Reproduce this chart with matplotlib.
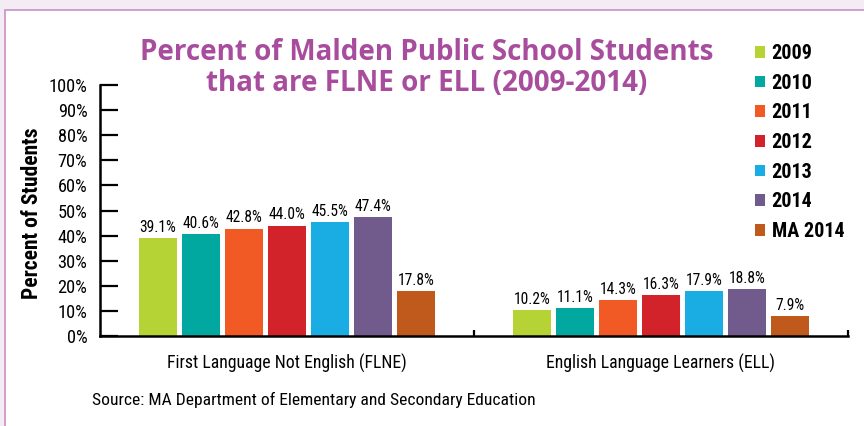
import matplotlib
matplotlib.use('Agg')
import matplotlib.pyplot as plt
from matplotlib import font_manager
from matplotlib.patches import Rectangle, Patch
import numpy as np

# data
categories = ['First Language Not English (FLNE)', 'English Language Learners (ELL)']
series = ['2009', '2010', '2011', '2012', '2013', '2014', 'MA 2014']
colors = ['#b5d334', '#00a89f', '#f15a24', '#d2232a', '#1aade3', '#715a8c', '#c05a1c']
flne = [39.1, 40.6, 42.8, 44.0, 45.5, 47.4, 17.8]
ell = [10.2, 11.1, 14.3, 16.3, 17.9, 18.8, 7.9]
yticks = [0, 10, 20, 30, 40, 50, 60, 70, 80, 90, 100]
ytick_labels = [f'{t}%' for t in yticks]

names = {f.name for f in font_manager.fontManager.ttflist}
narrow = 'DejaVu Sans'
for cand in ['Liberation Sans Narrow', 'Roboto Condensed', 'DejaVu Sans Condensed', 'Roboto']:
    if cand in names:
        narrow = cand
        break
title_font = 'Open Sans' if 'Open Sans' in names else 'DejaVu Sans'
plt.rcParams['font.family'] = [narrow, 'DejaVu Sans']

W, H = 864, 426
fig = plt.figure(figsize=(W / 100, H / 100), dpi=100, facecolor='#f3ecf5')

# white panel with purple edge, behind everything
panel = Rectangle((5 / W, -0.1), 1.2, 1.1 - 10 / H, transform=fig.transFigure,
                  facecolor='white', edgecolor='#c98fc4', linewidth=1.2, zorder=-10)
fig.add_artist(panel)

ax = fig.add_axes([100 / W, 1 - 336 / H, 748 / W, 251 / H])
ax.set_facecolor('none')

pitch, width = 0.115, 0.104
x = np.arange(len(categories))
for i, (name, c) in enumerate(zip(series, colors)):
    vals = [flne[i], ell[i]]
    pos = x + (i - 3) * pitch
    ax.bar(pos, vals, width=width, color=c, label=name, zorder=2)
    for p, v in zip(pos, vals):
        ax.text(p, v + 1.3, f'{v:.1f}%', ha='center', va='bottom', fontsize=11.2)

ax.set_xlim(-0.5, 1.5)
ax.set_ylim(0, 100)
ax.set_yticks(yticks)
ax.set_yticklabels(ytick_labels)
ax.set_xticks([0.5, 1.5])
ax.set_xticklabels([])
ax.tick_params(axis='y', direction='in', length=13, width=1.6, labelsize=13.2, pad=9)
ax.tick_params(axis='x', direction='in', length=4, width=1.6)
for s in ['top', 'right']:
    ax.spines[s].set_visible(False)
for s in ['left', 'bottom']:
    ax.spines[s].set_linewidth(1.8)

for i, cat in enumerate(categories):
    ax.text(i, -27 / 251, cat, transform=ax.get_xaxis_transform(),
            ha='center', va='center', fontsize=12.8)

fig.text(32 / W, 1 - 213 / H, 'Percent of Students', rotation=90,
         ha='center', va='center', fontsize=15.5, fontweight='bold')

fig.text(427 / W, 1 - 68 / H, 'Percent of Malden Public School Students\nthat are FLNE or ELL (2009-2014)',
         ha='center', va='center', fontsize=20, fontweight='bold', color='#a84c9d',
         family=title_font, linespacing=1.05)

fig.text(92 / W, 1 - 400 / H, 'Source: MA Department of Elementary and Secondary Education',
         ha='left', va='center', fontsize=12.6)

handles = [Patch(facecolor=c, label=n) for n, c in zip(series, colors)]
fig.legend(handles=handles, loc='upper left', bbox_to_anchor=(755 / W, 1 - 44 / H),
           frameon=False, borderpad=0, borderaxespad=0, handlelength=0.52,
           handleheight=0.52, handletextpad=0.3, labelspacing=0.53,
           prop={'family': [narrow, 'DejaVu Sans'], 'weight': 'bold', 'size': 14.5})

fig.savefig('out.png', dpi=100, facecolor=fig.get_facecolor())
